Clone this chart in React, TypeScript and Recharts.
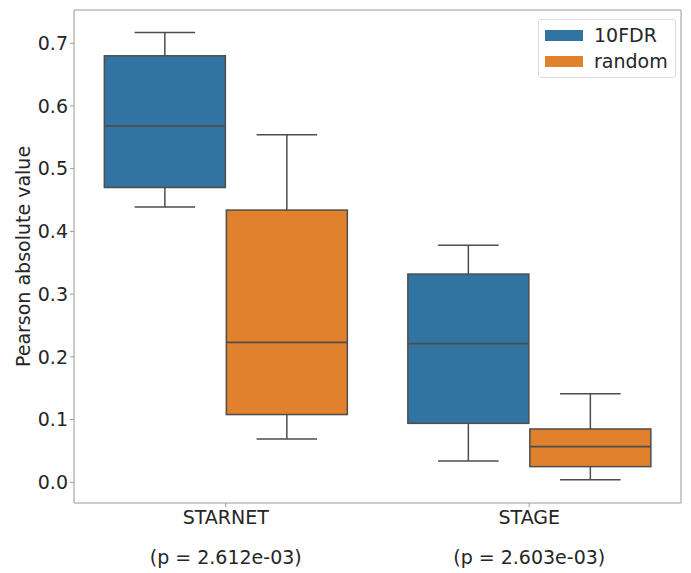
import React from "react";
import { ComposedChart, Bar, XAxis, YAxis } from "recharts";

const categories = ["STARNET", "STAGE"];
const pValues = ["(p = 2.612e-03)", "(p = 2.603e-03)"];
const seriesNames = ["10FDR", "random"];

const fdrMin = [0.439, 0.034];
const fdrQ1 = [0.47, 0.094];
const fdrMed = [0.568, 0.221];
const fdrQ3 = [0.68, 0.332];
const fdrMax = [0.717, 0.378];

const rndMin = [0.069, 0.004];
const rndQ1 = [0.108, 0.025];
const rndMed = [0.223, 0.057];
const rndQ3 = [0.434, 0.085];
const rndMax = [0.554, 0.141];

const yTicks = [0.0, 0.1, 0.2, 0.3, 0.4, 0.5, 0.6, 0.7];

const COLORS = ["#3274a1", "#e1812c"];
const LINE = "#4d4d4d";
const FONT = "'DejaVu Sans', sans-serif";
const TEXT = "#262626";
const FS = 19;

const data = categories.map((c, i) => ({
  name: c,
  p: pValues[i],
  fdr: { min: fdrMin[i], q1: fdrQ1[i], med: fdrMed[i], q3: fdrQ3[i], max: fdrMax[i] },
  rnd: { min: rndMin[i], q1: rndQ1[i], med: rndMed[i], q3: rndQ3[i], max: rndMax[i] },
}));

const makeShape = (key: string, color: string) => (props: any) => {
  const { x, y, width, height, payload } = props;
  const s = payload[key];
  const top = Math.min(y, y + height);
  const h = Math.abs(height);
  const px = (v: number) => top + ((s.max - v) / (s.max - s.min)) * h;
  const cx = x + width / 2;
  const capHalf = width / 4;
  const yMax = px(s.max);
  const yQ3 = px(s.q3);
  const yMed = px(s.med);
  const yQ1 = px(s.q1);
  const yMin = px(s.min);
  return (
    <g>
      <line x1={cx} x2={cx} y1={yMax} y2={yQ3} stroke={LINE} strokeWidth={1.5} />
      <line x1={cx - capHalf} x2={cx + capHalf} y1={yMax} y2={yMax} stroke={LINE} strokeWidth={1.5} />
      <rect x={x} y={yQ3} width={width} height={yQ1 - yQ3} fill={color} stroke={LINE} strokeWidth={1.5} />
      <line x1={x} x2={x + width} y1={yMed} y2={yMed} stroke={LINE} strokeWidth={1.8} />
      <line x1={cx} x2={cx} y1={yQ1} y2={yMin} stroke={LINE} strokeWidth={1.5} />
      <line x1={cx - capHalf} x2={cx + capHalf} y1={yMin} y2={yMin} stroke={LINE} strokeWidth={1.5} />
    </g>
  );
};

const XTick = (props: any) => {
  const { x, y, payload, index } = props;
  return (
    <g>
      <text x={x} y={y + 15} textAnchor="middle" fontFamily={FONT} fontSize={FS} fill={TEXT}>
        {payload.value}
      </text>
      <text x={x} y={y + 55} textAnchor="middle" fontFamily={FONT} fontSize={FS} fill={TEXT}>
        {pValues[index]}
      </text>
    </g>
  );
};

const LegendBox = () => (
  <div
    style={{
      position: "absolute",
      left: 538,
      top: 19,
      width: 138,
      height: 59,
      border: "1px solid #dddddd",
      borderRadius: 3,
      background: "#fff",
      boxSizing: "border-box",
      fontFamily: FONT,
      fontSize: FS,
      color: TEXT,
      paddingTop: 2,
    }}
  >
    {seriesNames.map((n, i) => (
      <div key={n} style={{ display: "flex", alignItems: "center", height: 26 }}>
        <div style={{ width: 38, height: 11, background: COLORS[i], marginLeft: 6, marginRight: 11 }} />
        <span>{n}</span>
      </div>
    ))}
  </div>
);

export default function App() {
  return (
    <div style={{ position: "absolute", left: 0, top: 0, width: 691, height: 573, background: "#fff" }}>
      <ComposedChart
        width={691}
        height={573}
        data={data}
        margin={{ top: 9, right: 9, bottom: 40, left: 0 }}
        barCategoryGap="10%"
        barGap={1}
      >
        <XAxis
          dataKey="name"
          xAxisId={0}
          height={30}
          axisLine={{ stroke: "#bbbbbb", strokeWidth: 1.5 }}
          tickLine={{ stroke: "#999999" }}
          tickSize={4}
          tick={<XTick />}
          interval={0}
        />
        <XAxis
          dataKey="name"
          xAxisId="top"
          orientation="top"
          height={1}
          tick={false}
          tickLine={false}
          axisLine={{ stroke: "#bbbbbb", strokeWidth: 1.5 }}
        />
        <YAxis
          yAxisId={0}
          width={74}
          domain={[-0.033, 0.753]}
          ticks={yTicks}
          allowDataOverflow
          tickFormatter={(v: number) => v.toFixed(1)}
          tick={{ fontFamily: FONT, fontSize: FS, fill: TEXT }}
          tickLine={{ stroke: "#999999" }}
          tickSize={4}
          axisLine={{ stroke: "#bbbbbb", strokeWidth: 1.5 }}
          label={{
            value: "Pearson absolute value",
            angle: -90,
            position: "insideLeft",
            dx: 18,
            dy: 0,
            style: { fontFamily: FONT, fontSize: FS, fill: TEXT, textAnchor: "middle" },
          }}
        />
        <YAxis
          yAxisId="right"
          orientation="right"
          width={1}
          domain={[0, 1]}
          tick={false}
          tickLine={false}
          axisLine={{ stroke: "#bbbbbb", strokeWidth: 1.5 }}
        />
        <Bar
          dataKey={(d: any) => [d.fdr.min, d.fdr.max]}
          name={seriesNames[0]}
          fill={COLORS[0]}
          shape={makeShape("fdr", COLORS[0])}
          isAnimationActive={false}
        />
        <Bar
          dataKey={(d: any) => [d.rnd.min, d.rnd.max]}
          name={seriesNames[1]}
          fill={COLORS[1]}
          shape={makeShape("rnd", COLORS[1])}
          isAnimationActive={false}
        />
      </ComposedChart>
      <LegendBox />
    </div>
  );
}
